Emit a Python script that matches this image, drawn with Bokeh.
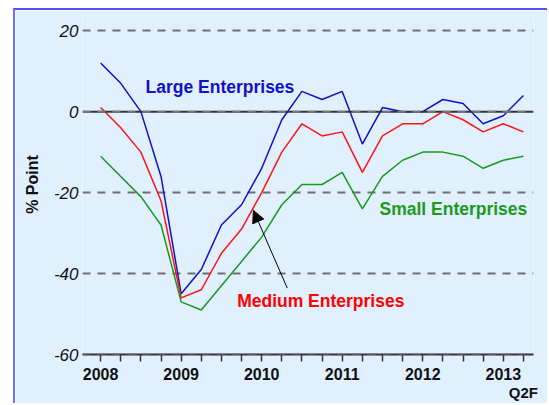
from bokeh.plotting import figure
from bokeh.models import (FixedTicker, Span, Label, Arrow, NormalHead, LinearAxis)
from bokeh.embed import file_html
from bokeh.resources import INLINE

# quarters 2008Q1 .. 2013Q2 (last is forecast)
quarters = list(range(22))
year_ticks = {0: "2008", 4: "2009", 8: "2010", 12: "2011", 16: "2012", 20: "2013"}
forecast_tick = {21: "Q2F"}
large = [12, 7, 0, -16, -45, -39, -28, -23, -14, -2, 5, 3, 5, -8, 1, 0, 0, 3, 2, -3, -1, 4]
medium = [1, -4, -10, -22, -46, -44, -35, -29, -20, -10, -3, -6, -5, -15, -6, -3, -3, 0, -2, -5, -3, -5]
small = [-11, -16, -21, -28, -47, -49, -43, -37, -31, -23, -18, -18, -15, -24, -16, -12, -10, -10, -11, -14, -12, -11]
y_ticks = [-60, -40, -20, 0, 20]
y_labels = {-60: "-60", -40: "-40", -20: "-20", 0: "0", 20: "20"}

BG = "#e0f0ff"
FONT = "Liberation Sans"
BLUE = "#1010cc"
RED = "#ff1414"
GREEN = "#1a9a1a"

p = figure(width=534, height=395, output_backend="svg", toolbar_location=None,
           x_range=(-0.9, 21.5), y_range=(-60, 24),
           min_border_left=67, min_border_right=16, min_border_top=4, min_border_bottom=51)
p.styles = {"margin-left": "13px", "margin-top": "8px", "border-top": "2px solid #5050ff",
            "border-left": "2px solid #7070ff"}
p.background_fill_color = BG
p.border_fill_color = BG
p.outline_line_color = None

# grid
p.xgrid.grid_line_color = None
p.ygrid.ticker = FixedTicker(ticks=[-40, -20, 20])
p.ygrid.grid_line_color = "#6e6e6e"
p.ygrid.grid_line_width = 2
p.ygrid.grid_line_dash = "8 7"

# y axis
p.yaxis.ticker = FixedTicker(ticks=y_ticks)
p.yaxis.major_label_overrides = y_labels
p.yaxis.axis_line_color = None
p.yaxis.major_tick_line_color = None
p.yaxis.minor_tick_line_color = None
p.yaxis.major_tick_out = 0
p.yaxis.major_tick_in = 0
p.yaxis.major_label_standoff = 4
p.yaxis.major_label_text_font = FONT
p.yaxis.major_label_text_font_style = "italic"
p.yaxis.major_label_text_font_size = "17px"
p.yaxis.major_label_text_color = "#111111"
p.yaxis.axis_label = "% Point"
p.yaxis.axis_label_text_font = FONT
p.yaxis.axis_label_text_font_style = "bold"
p.yaxis.axis_label_text_font_size = "16px"
p.yaxis.axis_label_text_color = "#111111"
p.yaxis.axis_label_standoff = 10

# x axis
p.xaxis.ticker = FixedTicker(ticks=quarters)
p.xaxis.major_label_overrides = {q: year_ticks.get(q, "") for q in quarters}
p.xaxis.axis_line_color = "#333333"
p.xaxis.axis_line_width = 2
p.xaxis.major_tick_line_color = "#333333"
p.xaxis.major_tick_line_width = 1.5
p.xaxis.major_tick_out = 7
p.xaxis.major_tick_in = 0
p.xaxis.minor_tick_line_color = None
p.xaxis.major_label_standoff = 6
p.xaxis.major_label_text_font = FONT
p.xaxis.major_label_text_font_style = "bold"
p.xaxis.major_label_text_font_size = "16px"
p.xaxis.major_label_text_color = "#111111"

# second row of x labels: forecast marker
ax2 = LinearAxis(ticker=FixedTicker(ticks=list(forecast_tick.keys())),
                 major_label_overrides=forecast_tick)
ax2.axis_line_color = None
ax2.major_tick_line_color = None
ax2.minor_tick_line_color = None
ax2.major_tick_out = 0
ax2.major_tick_in = 0
ax2.major_label_standoff = 1
ax2.major_label_text_font = FONT
ax2.major_label_text_font_style = "bold"
ax2.major_label_text_font_size = "15px"
ax2.major_label_text_color = "#111111"
p.add_layout(ax2, "below")

# zero line and axis line overlay dashes
p.add_layout(Span(location=0, dimension="width", line_color="#333333", line_width=2))
p.add_layout(Span(location=0, dimension="width", line_color="#7a7a7a", line_width=2, line_dash="8 7"))
p.add_layout(Span(location=-60, dimension="width", line_color="#7a7a7a", line_width=2, line_dash="8 7"))

p.line(quarters, large, line_color=BLUE, line_width=1.5)
p.line(quarters, medium, line_color=RED, line_width=1.5)
p.line(quarters, small, line_color=GREEN, line_width=1.5)

def lab(x, y, text, color, size="17.5px"):
    p.add_layout(Label(x=x, y=y, text=text, text_color=color, text_font=FONT,
                       text_font_style="bold", text_font_size=size,
                       text_baseline="middle", text_align="left"))

lab(2.23, 6.2, "Large Enterprises", "#1212c4")
lab(6.78, -46.7, "Medium Enterprises", "#ff0000")
lab(13.85, -24.1, "Small Enterprises", "#1c9a1c")

p.add_layout(Arrow(end=NormalHead(size=12, fill_color="black", line_color="black", line_width=1),
                   x_start=9.27, y_start=-43.6, x_end=7.59, y_end=-24.4,
                   line_color="black", line_width=1))

open("out.html", "w").write(file_html(p, INLINE))
